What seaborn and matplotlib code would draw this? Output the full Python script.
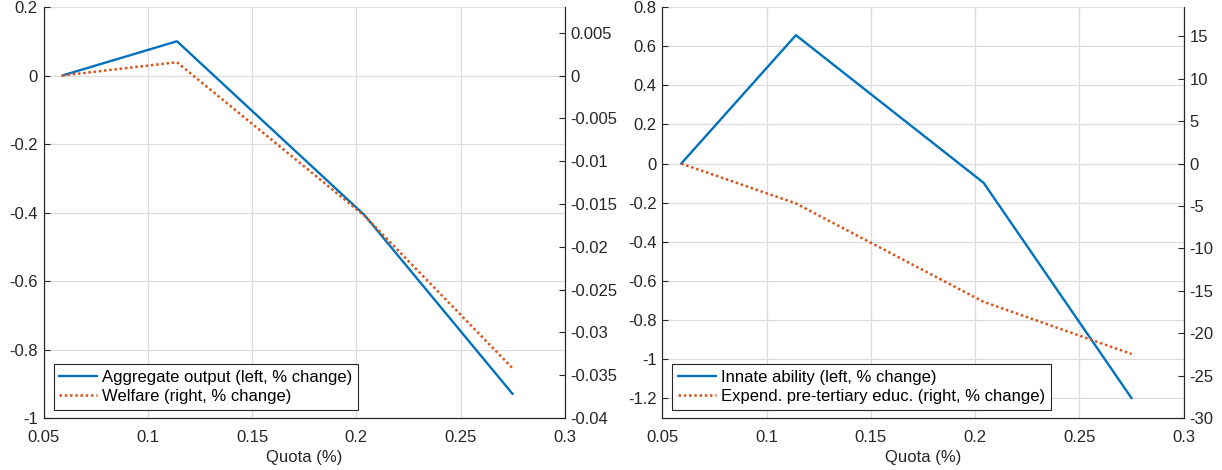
import matplotlib
matplotlib.use("Agg")
import matplotlib.pyplot as plt
import numpy as np
import pandas as pd
import seaborn as sns
from matplotlib.ticker import FuncFormatter, FixedLocator

# ---------------- data ----------------
quota = [0.059, 0.114, 0.204, 0.275]

aggregate_output = [0.0, 0.100, -0.408, -0.930]      # left panel, left axis
welfare = [0.0, 0.00155, -0.0164, -0.0342]           # left panel, right axis

innate_ability = [0.0, 0.656, -0.098, -1.199]        # right panel, left axis
expend_pretertiary = [0.0, -4.7, -16.3, -22.45]      # right panel, right axis

x_ticks = [0.05, 0.1, 0.15, 0.2, 0.25, 0.3]
left_yticks_a = [0.2, 0, -0.2, -0.4, -0.6, -0.8, -1]
right_yticks_a = [0.005, 0, -0.005, -0.01, -0.015, -0.02, -0.025, -0.03, -0.035, -0.04]
left_yticks_b = [0.8, 0.6, 0.4, 0.2, 0, -0.2, -0.4, -0.6, -0.8, -1, -1.2]
right_yticks_b = [15, 10, 5, 0, -5, -10, -15, -20, -25, -30]

labels_a = ["Aggregate output (left, % change)", "Welfare (right, % change)"]
labels_b = ["Innate ability (left, % change)", "Expend. pre-tertiary educ. (right, % change)"]
x_label = "Quota (%)"

# ---------------- style ----------------
sns.set_theme(style="white")
plt.rcParams["font.family"] = ["Liberation Sans", "DejaVu Sans"]
plt.rcParams["axes.unicode_minus"] = False

BLUE = "#0072BD"
ORANGE = "#D95319"
TXT = "#262626"
GRID = "#DCDCDC"
FS = 12

fmt = FuncFormatter(lambda v, p: "{:g}".format(round(v, 6)))

fig = plt.figure(figsize=(12.22, 4.70), dpi=100)


def panel(rect, y_left, y_right, labels, ylim_l, ylim_r, yt_l, yt_r):
    ax = fig.add_axes(rect)
    ax2 = ax.twinx()
    df = pd.DataFrame({"quota": quota, "left": y_left, "right": y_right})
    sns.lineplot(data=df, x="quota", y="left", ax=ax, color=BLUE,
                 linewidth=1.7, legend=False)
    sns.lineplot(data=df, x="quota", y="right", ax=ax2, color=ORANGE,
                 linewidth=1.8, linestyle=(0, (1.0, 1.1)), legend=False)
    ax.set_xlim(0.05, 0.3)
    ax.set_ylim(*ylim_l)
    ax2.set_ylim(*ylim_r)
    ax.xaxis.set_major_locator(FixedLocator(x_ticks))
    ax.yaxis.set_major_locator(FixedLocator(yt_l))
    ax2.yaxis.set_major_locator(FixedLocator(yt_r))
    for a in (ax, ax2):
        a.xaxis.set_major_formatter(fmt)
        a.yaxis.set_major_formatter(fmt)
        a.tick_params(axis="y", direction="in", length=4.5, width=0.8,
                      colors=TXT, labelsize=FS, pad=4.2)
        a.tick_params(axis="x", direction="in", length=4.5, width=0.8,
                      colors=TXT, labelsize=FS, pad=8.5)
        a.spines["top"].set_visible(False)
        for s in ("left", "right", "bottom"):
            a.spines[s].set_color(TXT)
            a.spines[s].set_linewidth(0.8)
        a.set_ylabel("")
    ax.set_xlabel(x_label, fontsize=FS, color=TXT, labelpad=4)
    ax2.set_xlabel("")
    ax.grid(True, color=GRID, linewidth=0.9)
    ax.set_axisbelow(True)
    ax2.grid(False)

    h1 = ax.lines[0]
    h2 = ax2.lines[0]
    leg = ax2.legend([h1, h2], labels, loc="lower left",
                     bbox_to_anchor=(10.0 / 521.3, 8.5 / 411.0),
                     borderaxespad=0, fancybox=False, framealpha=1,
                     edgecolor=TXT, fontsize=FS, handlelength=2.3,
                     handletextpad=0.3, borderpad=0.33, labelspacing=0.27)
    leg.get_frame().set_linewidth(0.8)
    for t in leg.get_texts():
        t.set_color("black")
    return ax, ax2


H = 0.8745
B = 0.1106
W = 0.4266
panel([0.0356, B, W, H], aggregate_output, welfare, labels_a,
      (-1, 0.2), (-0.04, 0.008), left_yticks_a, right_yticks_a)
panel([0.5421, B, W, H], innate_ability, expend_pretertiary, labels_b,
      (-1.3, 0.8), (-30, 30 * 0.8 / 1.3), left_yticks_b, right_yticks_b)

fig.savefig("out.png", dpi=100)
